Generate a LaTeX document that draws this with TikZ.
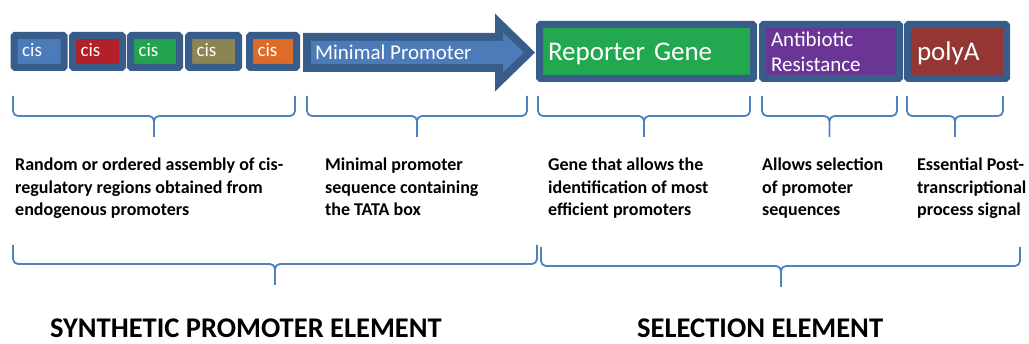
\documentclass[tikz,border=0pt]{standalone}
\usepackage{fontspec}
\setmainfont{Carlito}
\definecolor{framec}{HTML}{385D8A}
\definecolor{lightblue}{HTML}{4B7BB8}
\definecolor{cisred}{HTML}{B2202A}
\definecolor{cisgreen}{HTML}{22A44E}
\definecolor{cisolive}{HTML}{8C8453}
\definecolor{cisorange}{HTML}{DD6C28}
\definecolor{repgreen}{HTML}{22A84F}
\definecolor{abpurple}{HTML}{6B3596}
\definecolor{polyared}{HTML}{943634}
\definecolor{bracec}{HTML}{4F81BD}
\begin{document}
\begin{tikzpicture}[x=1pt,y=-1pt,
  frame/.style={draw=framec, line width=7pt, rounded corners=1pt, inner ysep=0pt,
    text=white, align=left},
  cisbox/.style={frame, fill=#1, minimum height=32pt, inner xsep=8pt,
    font=\fontsize{19}{22}\selectfont, text height=13pt, text depth=2pt},
  bigbox/.style={frame, fill=#1, minimum height=54pt,
    font=\fontsize{27}{30}\selectfont, text height=20pt, text depth=1pt},
  brc/.style={draw=bracec, line width=1.8pt, rounded corners=5pt},
  desc/.style={anchor=north west, inner sep=0pt, align=left,
    font=\fontsize{18}{22.5}\selectfont\bfseries},
  title/.style={anchor=base west, inner sep=0pt, font=\fontsize{28.5}{30}\selectfont\bfseries}
]
\useasboundingbox (0,0) rectangle (1029,344);

% cis-regulatory modules
\node[cisbox=lightblue, minimum width=50pt, text width=34pt] (cis1) at (39.2,51.5) {cis};
\node[cisbox=cisred,    minimum width=50pt, text width=34pt] (cis2) at (97.5,51.5) {cis};
\node[cisbox=cisgreen,  minimum width=49pt, text width=33pt] (cis3) at (155,51.5) {cis};
\node[cisbox=cisolive,  minimum width=50pt, text width=34pt] (cis4) at (213.5,51.5) {cis};
\node[cisbox=cisorange, minimum width=47pt, text width=31pt] (cis5) at (273,51.5) {cis};

% minimal promoter arrow
\fill[framec] (303,33) -- (495,33) -- (495,13.5) -- (535,52.5) -- (495,91.5)
  -- (495,72) -- (303,72) -- cycle;
\fill[lightblue] (311,41) -- (503,41) -- (503,32.6) -- (523.7,52.5) -- (503,72.4)
  -- (503,64) -- (311,64) -- cycle;
\node[anchor=base west, inner sep=0pt, text=white, font=\fontsize{21}{24}\selectfont]
  (minprom) at (315,60) {Minimal Promoter};

% selection cassette
\node[bigbox=repgreen, minimum width=214pt, inner xsep=8.5pt, text width=197pt]
  (reporter) at (646.5,51.5) {Reporter Gene};
\node[frame, fill=abpurple, minimum width=137pt, minimum height=54pt, inner xsep=8.5pt,
  text width=120pt, font=\fontsize{21}{25}\selectfont]
  (antibiotic) at (831,51.5) {Antibiotic\\Resistance};
\node[bigbox=polyared, minimum width=99pt, inner xsep=9.5pt, text width=80pt]
  (polya) at (957,51.5) {polyA};

% braces under each element
\draw[brc] (13,96) -- (13,116) -- (154,116) -- (154,137)
           (295,96) -- (295,116) -- (154,116) -- (154,137);
\draw[brc] (307,96) -- (307,116) -- (417,116) -- (417,137)
           (527,96) -- (527,116) -- (417,116) -- (417,137);
\draw[brc] (538,96) -- (538,116) -- (644,116) -- (644,137)
           (750,96) -- (750,116) -- (644,116) -- (644,137);
\draw[brc] (762,96) -- (762,116) -- (829.5,116) -- (829.5,137)
           (897,96) -- (897,116) -- (829.5,116) -- (829.5,137);
\draw[brc] (907,96) -- (907,116) -- (955,116) -- (955,137)
           (1003,96) -- (1003,116) -- (955,116) -- (955,137);

% descriptions
\node[desc] (d1) at (15,158) {Random or ordered assembly of cis-\\regulatory regions obtained from\\endogenous promoters};
\node[desc] (d2) at (325,158) {Minimal promoter\\sequence containing\\the TATA box};
\node[desc] (d3) at (548,158) {Gene that allows the\\identification of most\\efficient promoters};
\node[desc] (d4) at (762,158) {Allows selection\\of promoter\\sequences};
\node[desc] (d5) at (917,158) {Essential Post-\\transcriptional\\process signal};

% group braces
\draw[brc] (13,245) -- (13,264) -- (275,264) -- (275,285)
           (537,245) -- (537,264) -- (275,264) -- (275,285);
\draw[brc] (541,247) -- (541,266) -- (781,266) -- (781,287)
           (1020,247) -- (1020,266) -- (781,266) -- (781,287);

% group titles
\node[title] (t1) at (50,337.5) {SYNTHETIC PROMOTER ELEMENT};
\node[title] (t2) at (637,337.5) {SELECTION ELEMENT};
\end{tikzpicture}
\end{document}
